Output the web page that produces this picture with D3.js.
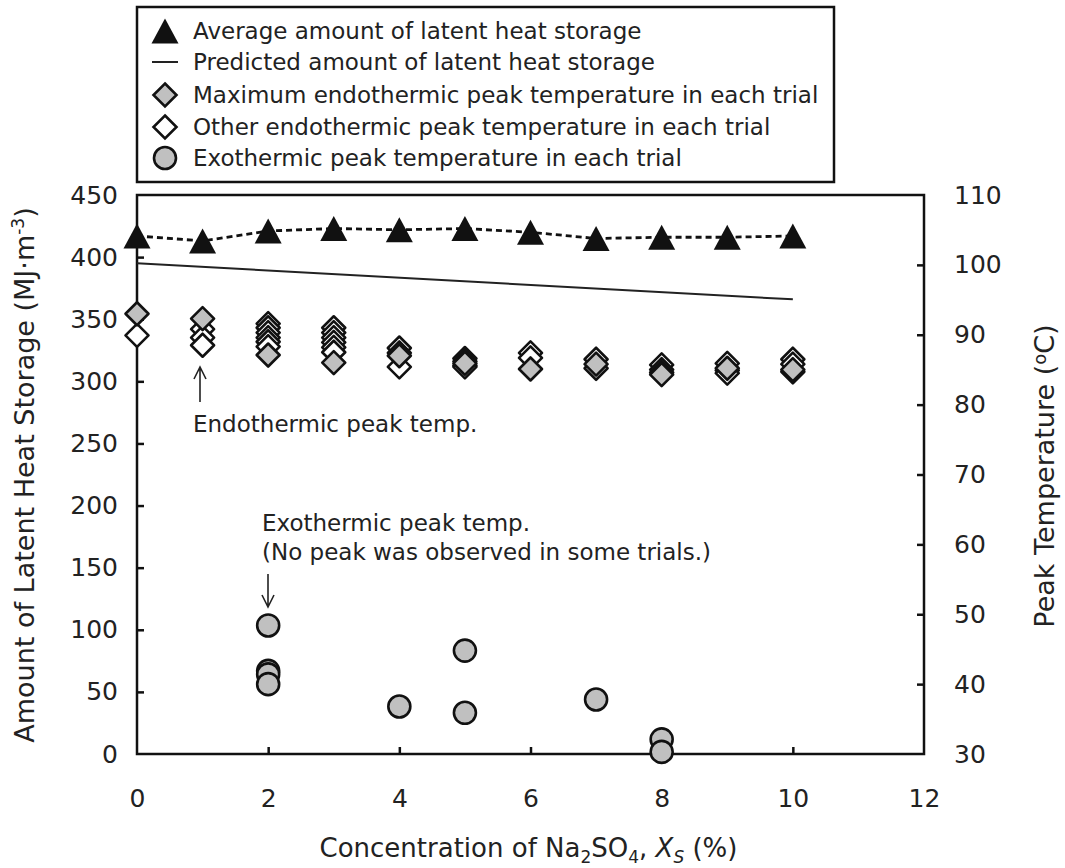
<!DOCTYPE html>
<html>
<head>
<meta charset="utf-8">
<script src="https://cdn.jsdelivr.net/npm/d3@7"></script>
<style>
  body { margin: 0; background: #fff; }
  text { font-family: "DejaVu Sans", sans-serif; fill: #222; }
</style>
</head>
<body>
<svg id="chart" width="1065" height="868"></svg>
<script>
// Na2SO4 concentration (%) for each trial group
const concentrations = [0, 1, 2, 3, 4, 5, 6, 7, 8, 9, 10];
// Average amount of latent heat storage (MJ/m3)
const avgLatentHeat = [417, 413, 421, 423, 422, 423, 420, 415, 416, 416, 417];
// Predicted amount of latent heat storage (MJ/m3)
const predictedConc = [0, 10];
const predictedLatentHeat = [395, 366];
// Maximum endothermic peak temperature in each trial (degC)
const maxEndoPeak = [93.0, 92.3, 87.1, 86.0, 87.0, 85.9, 85.1, 85.8, 84.3, 85.2, 85.0];
// Other endothermic peak temperatures (degC)
const otherEndoConc = [0, 1, 1, 1, 2, 2, 2, 2, 2, 2, 3, 3, 3, 3, 3, 3, 4, 4, 4, 5, 5, 5, 5, 6, 6, 7, 7, 8, 8, 8, 9, 9, 9, 10, 10, 10];
const otherEndoPeak = [89.9, 90.8, 89.6, 88.5, 91.6, 91.0, 90.3, 89.6, 89.0, 88.3, 91.0, 90.3, 89.6, 88.9, 88.2, 87.5,
                       88.1, 87.4, 85.4, 86.6, 86.2, 85.6, 85.4, 87.4, 86.7, 86.5, 85.2, 85.7, 85.0, 84.6, 85.9, 84.9, 84.5,
                       86.5, 85.8, 84.7];
// Exothermic peak temperatures (degC)
const exoConc = [2, 2, 2, 2, 4, 5, 5, 7, 8, 8];
const exoPeak = [48.4, 41.9, 41.4, 40.0, 36.8, 44.8, 35.9, 37.8, 32.1, 30.3];

const xTicks = [0, 2, 4, 6, 8, 10, 12];
const leftTicks = [0, 50, 100, 150, 200, 250, 300, 350, 400, 450];
const rightTicks = [30, 40, 50, 60, 70, 80, 90, 100, 110];
const legendLabels = [
  "Average amount of latent heat storage",
  "Predicted amount of latent heat storage",
  "Maximum endothermic peak temperature in each trial",
  "Other endothermic peak temperature in each trial",
  "Exothermic peak temperature in each trial"
];

const svg = d3.select("#chart");
const plot = { left: 137, right: 924, top: 195, bottom: 754 };
const grayFill = "#c0c0c0";
const ink = "#111";

const x = d3.scaleLinear().domain([0, 12]).range([plot.left, plot.right]);
const yL = d3.scaleLinear().domain([0, 450]).range([plot.bottom, plot.top]);
const yR = d3.scaleLinear().domain([30, 110]).range([plot.bottom, plot.top]);

// marker shapes
const diamondPath = r => `M0,${-r}L${r},0L0,${r}L${-r},0Z`;
const trianglePath = (w, h) => `M0,${-h / 2}L${w / 2},${h / 2}L${-w / 2},${h / 2}Z`;
const dR = 11.5, cR = 11, triW = 27, triH = 25;

// axes: ticks point inward
const tickFont = 25;
const axL = svg.append("g").attr("transform", `translate(${plot.left},0)`)
  .call(d3.axisLeft(yL).tickValues(leftTicks).tickSizeInner(-7).tickSizeOuter(0).tickPadding(19));
const axR = svg.append("g").attr("transform", `translate(${plot.right},0)`)
  .call(d3.axisRight(yR).tickValues(rightTicks).tickSizeInner(-7).tickSizeOuter(0).tickPadding(30));
const axB = svg.append("g").attr("transform", `translate(0,${plot.bottom})`)
  .call(d3.axisBottom(x).tickValues(xTicks).tickSizeInner(-7).tickSizeOuter(0).tickPadding(35));
[axL, axR, axB].forEach(a => {
  a.selectAll("path.domain").remove();
  a.selectAll(".tick line").attr("stroke", ink).attr("stroke-width", 2.5);
  a.selectAll(".tick text").style("font-family", '"DejaVu Sans", sans-serif')
    .style("font-size", tickFont + "px").attr("fill", "#222");
});
axL.selectAll(".tick").filter(d => d === 0 || d === 450).select("line").remove();
axR.selectAll(".tick").filter(d => d === 30 || d === 110).select("line").remove();
axB.selectAll(".tick").filter(d => d === 0 || d === 12).select("line").remove();

// plot frame
svg.append("rect")
  .attr("x", plot.left).attr("y", plot.top)
  .attr("width", plot.right - plot.left).attr("height", plot.bottom - plot.top)
  .attr("fill", "none").attr("stroke", ink).attr("stroke-width", 2.5);

// predicted latent heat line
svg.append("path")
  .datum(predictedConc.map((c, i) => [c, predictedLatentHeat[i]]))
  .attr("d", d3.line().x(d => x(d[0])).y(d => yL(d[1])))
  .attr("fill", "none").attr("stroke", "#222").attr("stroke-width", 2);

// average latent heat: dashed line + triangles
const avgPts = concentrations.map((c, i) => [c, avgLatentHeat[i]]);
svg.append("path")
  .datum(avgPts)
  .attr("d", d3.line().x(d => x(d[0])).y(d => yL(d[1])))
  .attr("fill", "none").attr("stroke", ink).attr("stroke-width", 2.8)
  .attr("stroke-dasharray", "6,4");
svg.append("g").selectAll("path").data(avgPts).join("path")
  .attr("transform", d => `translate(${x(d[0])},${yL(d[1])})`)
  .attr("d", trianglePath(triW, triH)).attr("fill", ink);

// other endothermic peaks (white diamonds)
svg.append("g").selectAll("path")
  .data(otherEndoConc.map((c, i) => [c, otherEndoPeak[i]])).join("path")
  .attr("transform", d => `translate(${x(d[0])},${yR(d[1])})`)
  .attr("d", diamondPath(dR)).attr("fill", "#fff")
  .attr("stroke", ink).attr("stroke-width", 2.6).attr("stroke-linejoin", "round");

// maximum endothermic peaks (gray diamonds)
svg.append("g").selectAll("path")
  .data(concentrations.map((c, i) => [c, maxEndoPeak[i]])).join("path")
  .attr("transform", d => `translate(${x(d[0])},${yR(d[1])})`)
  .attr("d", diamondPath(dR)).attr("fill", grayFill)
  .attr("stroke", ink).attr("stroke-width", 2.6).attr("stroke-linejoin", "round");

// exothermic peaks (gray circles)
svg.append("g").selectAll("circle")
  .data(exoConc.map((c, i) => [c, exoPeak[i]])).join("circle")
  .attr("cx", d => x(d[0])).attr("cy", d => yR(d[1])).attr("r", cR)
  .attr("fill", grayFill).attr("stroke", ink).attr("stroke-width", 2.6);

// annotations
const annFont = 23;
function arrow(x0, yFrom, yTo) {
  const dir = yTo < yFrom ? 1 : -1;
  svg.append("path")
    .attr("d", `M${x0},${yFrom}L${x0},${yTo}M${x0 - 6},${yTo + dir * 12}L${x0},${yTo}L${x0 + 6},${yTo + dir * 12}`)
    .attr("fill", "none").attr("stroke", "#222").attr("stroke-width", 1.6);
}
arrow(200, 402, 367);
svg.append("text").attr("x", 193).attr("y", 432).style("font-size", annFont + "px")
  .text("Endothermic peak temp.");
svg.append("text").attr("x", 262).attr("y", 531).style("font-size", annFont + "px")
  .text("Exothermic peak temp.");
svg.append("text").attr("x", 262).attr("y", 560).style("font-size", annFont + "px")
  .text("(No peak was observed in some trials.)");
arrow(268, 574, 607);

// legend
const lg = svg.append("g");
lg.append("rect").attr("x", 137).attr("y", 7).attr("width", 697).attr("height", 175)
  .attr("fill", "#fff").attr("stroke", ink).attr("stroke-width", 2.5);
const rowY = [31, 62, 95, 127, 158];
const symX = 165;
lg.append("path").attr("transform", `translate(${symX},${rowY[0]})`)
  .attr("d", trianglePath(triW, triH)).attr("fill", ink);
lg.append("line").attr("x1", symX - 13).attr("x2", symX + 13)
  .attr("y1", rowY[1]).attr("y2", rowY[1]).attr("stroke", "#222").attr("stroke-width", 2);
lg.append("path").attr("transform", `translate(${symX},${rowY[2]})`)
  .attr("d", diamondPath(dR)).attr("fill", grayFill).attr("stroke", ink).attr("stroke-width", 2.6);
lg.append("path").attr("transform", `translate(${symX},${rowY[3]})`)
  .attr("d", diamondPath(dR)).attr("fill", "#fff").attr("stroke", ink).attr("stroke-width", 2.6);
lg.append("circle").attr("cx", symX).attr("cy", rowY[4]).attr("r", cR)
  .attr("fill", grayFill).attr("stroke", ink).attr("stroke-width", 2.6);
lg.selectAll("text.lab").data(legendLabels).join("text").attr("class", "lab")
  .attr("x", 193).attr("y", (d, i) => rowY[i]).attr("dy", "0.35em")
  .style("font-size", annFont + "px").text(d => d);

// axis titles
const titleFont = 27;
const xt = svg.append("text").attr("x", (plot.left + plot.right) / 2 - 2).attr("y", 857)
  .attr("text-anchor", "middle").style("font-size", "26px");
xt.append("tspan").text("Concentration of Na");
xt.append("tspan").attr("dy", 6).style("font-size", "17px").text("2");
xt.append("tspan").attr("dy", -6).text("SO");
xt.append("tspan").attr("dy", 6).style("font-size", "17px").text("4");
xt.append("tspan").attr("dy", -6).text(", ");
xt.append("tspan").style("font-style", "italic").text("X");
xt.append("tspan").attr("dy", 6).style("font-style", "italic").style("font-size", "17px").text("S");
xt.append("tspan").attr("dy", -6).text(" (%)");

const lt = svg.append("text")
  .attr("transform", `translate(34,475) rotate(-90)`)
  .attr("text-anchor", "middle").style("font-size", titleFont + "px");
lt.append("tspan").text("Amount of Latent Heat Storage (MJ\u00b7m");
lt.append("tspan").attr("dy", -10).style("font-size", "17px").text("-3");
lt.append("tspan").attr("dy", 10).text(")");

const rt = svg.append("text")
  .attr("transform", `translate(1054,476) rotate(-90)`)
  .attr("text-anchor", "middle").style("font-size", titleFont + "px");
rt.append("tspan").text("Peak Temperature (");
rt.append("tspan").attr("dy", -8).style("font-size", "18px").text("o");
rt.append("tspan").attr("dy", 8).text("C)");
</script>
</body>
</html>
